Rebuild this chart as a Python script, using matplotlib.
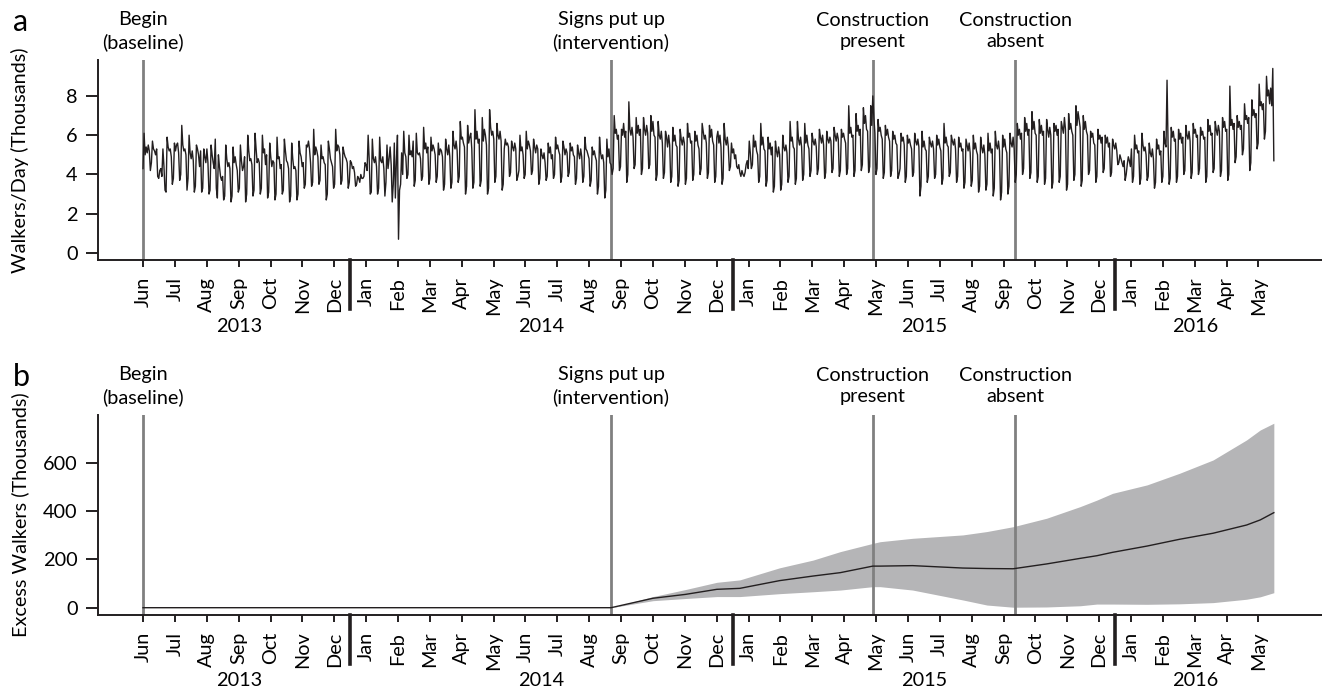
import numpy as np
import matplotlib
matplotlib.use("Agg")
import matplotlib.pyplot as plt
import matplotlib.transforms as mtransforms

plt.rcParams["font.family"] = ["Lato", "DejaVu Sans"]
plt.rcParams["font.size"] = 14.3

# gunluk yaya sayisi (bin), 1 Haziran 2013 (Cumartesi) -> 16 Mayis 2016
# her satir bir hafta: Cmt, Paz, Pzt, Sal, Car, Per, Cum
walkers_baseline = [
    [4.3, 6.1, 5.0, 5.4, 5.1, 5.5, 5.2], [4.2, 4.6, 5.7, 5.3, 5.2, 5.0, 5.3],
    [3.9, 3.8, 4.2, 4.3, 3.9, 5.3, 4.4], [3.2, 3.1, 5.9, 5.4, 5.2, 5.3, 4.9],
    [3.5, 3.8, 5.6, 5.2, 5.5, 5.6, 5.1], [3.7, 4.0, 6.5, 5.5, 5.2, 5.3, 5.0],
    [3.2, 3.8, 6.0, 5.1, 4.8, 5.2, 4.7], [3.1, 3.4, 5.5, 5.3, 5.0, 4.4, 5.2],
    [3.1, 3.3, 5.3, 4.9, 4.6, 5.3, 4.6], [3.0, 3.2, 5.5, 5.0, 4.6, 4.3, 5.8],
    [3.3, 2.8, 5.0, 4.4, 3.9, 3.7, 3.9], [2.7, 2.9, 5.5, 4.8, 4.4, 4.6, 4.3],
    [2.6, 2.9, 5.4, 4.6, 4.9, 4.5, 4.2], [3.1, 3.3, 5.5, 4.7, 4.2, 4.4, 4.9],
    [2.6, 3.0, 6.0, 5.2, 4.7, 4.8, 4.5], [2.9, 3.2, 6.1, 5.3, 4.6, 4.8, 4.6],
    [3.0, 3.3, 6.0, 5.1, 5.3, 4.5, 5.0], [2.8, 3.1, 5.6, 4.9, 4.4, 4.7, 4.6],
    [2.7, 3.0, 5.9, 4.8, 4.9, 4.3, 4.5], [3.0, 3.2, 5.8, 5.2, 4.7, 4.6, 4.3],
    [2.6, 2.9, 5.6, 4.8, 4.3, 4.4, 4.2], [2.7, 3.0, 5.7, 5.1, 4.9, 4.4, 4.6],
    [3.3, 3.5, 5.5, 5.4, 5.7, 5.3, 4.6], [3.4, 3.6, 6.3, 5.0, 5.4, 5.2, 4.9],
    [3.5, 3.7, 5.5, 4.8, 4.9, 4.6, 4.5], [2.7, 3.0, 5.7, 5.3, 4.8, 4.6, 4.4],
    [3.3, 3.5, 6.3, 5.2, 5.5, 5.4, 5.0], [3.5, 3.7, 5.4, 5.1, 4.9, 4.8, 4.6],
    [3.3, 3.6, 4.7, 4.6, 4.3, 4.4, 4.1], [3.4, 3.5, 3.9, 3.8, 3.6, 4.0, 3.8],
    [3.8, 3.9, 4.6, 4.5, 4.2, 6.0, 4.8], [3.0, 3.1, 5.8, 4.8, 4.6, 4.9, 4.4],
    [3.0, 3.3, 5.9, 4.7, 4.6, 4.9, 4.3], [2.9, 3.6, 5.5, 4.3, 4.8, 5.4, 4.5],
    [2.6, 3.5, 5.6, 2.8, 4.7, 6.0, 0.7], [3.2, 3.5, 5.1, 4.0, 6.2, 5.1, 4.9],
    [3.8, 4.0, 6.0, 5.0, 5.2, 4.9, 5.7], [3.4, 3.7, 6.1, 5.1, 5.0, 5.1, 4.8],
    [3.7, 3.9, 6.4, 5.3, 5.6, 5.1, 5.4], [3.5, 3.8, 5.9, 5.2, 5.5, 5.3, 5.0],
    [3.6, 3.9, 5.6, 5.0, 5.3, 5.2, 4.9], [3.2, 3.5, 5.8, 5.3, 5.0, 5.5, 4.9],
    [3.3, 3.6, 6.2, 5.5, 5.3, 5.7, 5.2], [3.6, 3.9, 6.7, 5.8, 5.9, 5.6, 5.4],
    [3.0, 3.4, 6.5, 5.6, 5.9, 6.1, 5.3], [3.3, 3.6, 7.3, 5.8, 6.2, 5.6, 5.8],
    [3.4, 3.7, 6.9, 5.7, 6.3, 6.0, 5.5], [3.0, 3.3, 7.3, 6.4, 6.0, 6.2, 5.8],
    [3.6, 3.9, 6.6, 6.0, 5.8, 6.2, 5.7], [3.2, 3.5, 5.3, 5.8, 5.5, 5.6, 5.4],
    [3.9, 4.1, 5.7, 5.4, 5.2, 5.6, 5.3], [3.7, 3.9, 4.2, 6.0, 5.2, 5.4, 5.0],
    [3.8, 4.0, 6.2, 5.3, 5.7, 5.5, 5.2], [4.0, 4.2, 5.8, 5.4, 5.1, 5.5, 5.3],
    [3.5, 3.8, 5.3, 5.0, 4.8, 5.1, 4.6], [3.7, 3.9, 5.6, 5.1, 5.4, 4.8, 5.0],
    [3.8, 4.0, 5.9, 5.3, 5.5, 5.2, 5.0], [3.6, 3.9, 5.7, 5.4, 5.0, 5.3, 5.1],
    [3.9, 4.1, 5.6, 5.2, 5.4, 5.0, 4.9], [3.5, 3.8, 5.5, 5.1, 4.8, 5.3, 4.9],
    [3.6, 3.9, 5.9, 5.3, 5.2, 5.0, 4.8], [3.4, 3.7, 5.4, 5.0, 5.2, 4.9, 4.7],
    [3.0, 3.4, 5.9, 5.1, 4.8, 5.0, 4.6], [2.8, 3.2, 5.8, 4.9, 5.3, 4.6, 4.5],
]
walkers_intervention = [
    [4.0, 4.3, 7.0, 6.1, 6.3, 5.8, 6.0], [4.2, 4.4, 6.3, 6.0, 6.6, 5.9, 6.2],
    [3.6, 4.0, 7.7, 6.3, 6.0, 6.4, 5.9], [4.3, 4.5, 6.9, 6.1, 6.5, 6.0, 6.3],
    [4.0, 4.3, 6.9, 6.3, 6.0, 6.5, 6.1], [4.3, 4.5, 7.0, 6.2, 6.7, 6.0, 5.9],
    [3.7, 4.0, 6.7, 6.0, 5.8, 6.2, 5.6], [3.8, 4.1, 6.2, 5.9, 5.4, 6.0, 5.5],
    [3.6, 3.9, 6.4, 5.7, 6.0, 5.5, 5.4], [3.4, 3.7, 6.3, 5.8, 5.5, 5.9, 5.6],
    [3.5, 3.8, 6.6, 5.9, 6.1, 5.6, 5.7], [3.7, 4.0, 6.2, 5.7, 6.0, 5.5, 5.3],
    [4.0, 4.3, 6.6, 6.2, 5.8, 6.0, 5.6], [3.8, 4.1, 6.5, 5.9, 6.3, 5.7, 5.5],
    [3.6, 3.9, 5.9, 6.2, 5.6, 6.0, 5.4], [3.5, 3.8, 6.6, 5.8, 5.5, 5.9, 5.4],
    [4.2, 4.4, 5.6, 5.1, 5.3, 4.8, 5.0], [4.4, 4.3, 4.5, 4.1, 3.9, 4.2, 4.0],
    [3.9, 4.1, 4.5, 4.7, 4.3, 5.7, 5.1], [4.3, 4.5, 6.0, 5.4, 5.7, 5.2, 5.0],
    [3.6, 3.9, 6.6, 5.5, 5.9, 5.3, 5.2], [3.4, 3.7, 5.9, 5.3, 5.6, 5.0, 5.4],
    [3.1, 3.4, 5.7, 5.2, 4.9, 5.4, 5.0], [3.2, 3.5, 6.0, 5.4, 5.2, 5.5, 5.1],
    [3.6, 3.9, 6.7, 5.7, 5.9, 5.4, 5.3], [3.5, 3.8, 6.7, 5.8, 5.5, 5.9, 5.4],
    [3.7, 4.0, 6.6, 5.6, 6.0, 5.5, 5.3], [3.9, 4.2, 6.1, 5.7, 5.5, 5.8, 5.4],
    [4.0, 4.3, 6.3, 5.9, 5.6, 6.0, 5.5], [3.8, 4.1, 6.2, 5.8, 5.6, 5.9, 5.7],
    [4.1, 4.3, 6.4, 6.0, 5.7, 6.1, 5.8], [3.9, 4.2, 6.3, 5.9, 6.1, 5.8, 5.6],
    [4.0, 4.3, 7.5, 6.1, 6.4, 5.9, 6.0], [3.9, 4.2, 7.1, 6.2, 6.5, 6.0, 6.3],
    [4.2, 4.5, 7.4, 6.6, 7.0, 6.3, 6.2], [4.1, 4.4, 7.5, 6.5, 8.0, 6.9, 6.1],
    [4.0, 4.3, 6.8, 6.2, 6.4, 6.0, 5.8], [3.8, 4.1, 6.5, 6.0, 6.3, 5.9, 5.7],
    [3.9, 4.2, 6.2, 5.8, 6.0, 5.6, 5.5], [3.8, 4.0, 4.3, 6.1, 5.7, 5.9, 5.5],
    [3.6, 3.9, 6.0, 5.6, 5.8, 5.5, 5.3], [3.9, 4.1, 6.1, 5.7, 5.5, 5.8, 5.4],
    [2.9, 3.4, 6.2, 5.4, 5.7, 5.3, 5.2], [3.6, 3.9, 5.9, 5.6, 5.4, 5.7, 5.3],
    [3.8, 4.0, 6.0, 5.5, 5.8, 5.4, 5.2], [3.5, 3.8, 6.6, 5.6, 5.9, 5.5, 5.4],
    [3.9, 4.1, 6.0, 5.7, 5.5, 5.8, 5.3], [3.6, 3.9, 5.9, 5.4, 5.6, 5.2, 5.3],
    [3.3, 3.6, 5.8, 5.5, 5.2, 5.6, 5.1], [3.4, 3.7, 6.0, 5.3, 5.6, 5.2, 5.0],
    [3.1, 3.4, 5.9, 5.4, 5.1, 5.5, 5.0], [3.2, 3.5, 6.1, 5.2, 5.6, 5.1, 5.3],
    [2.9, 3.3, 6.2, 5.5, 5.3, 5.7, 5.2], [2.7, 3.1, 6.0, 5.4, 5.8, 5.3, 5.1],
    [3.0, 3.4, 6.1, 5.6, 5.4, 5.9, 5.3],
]
walkers_after = [
    [3.6, 4.0, 6.6, 6.0, 6.3, 5.8, 6.1], [4.0, 4.3, 6.9, 6.2, 6.6, 6.0, 6.3],
    [3.8, 4.1, 7.2, 6.3, 6.7, 6.1, 6.0], [3.6, 3.9, 6.8, 6.1, 6.5, 6.0, 6.2],
    [3.5, 3.8, 6.8, 6.3, 5.9, 6.4, 6.0], [3.3, 3.6, 6.6, 6.2, 6.5, 6.0, 6.3],
    [3.6, 3.9, 6.7, 6.4, 6.1, 6.9, 6.3], [3.2, 3.5, 7.1, 6.3, 6.6, 6.2, 6.0],
    [3.7, 4.0, 7.5, 6.5, 7.2, 6.8, 6.4], [3.4, 3.7, 7.0, 6.3, 6.7, 6.2, 6.0],
    [4.0, 4.2, 6.2, 5.9, 6.1, 5.6, 5.5], [3.6, 3.9, 6.3, 5.8, 6.0, 5.6, 5.9],
    [4.1, 4.3, 6.0, 5.6, 5.9, 5.4, 5.6], [3.9, 4.1, 5.8, 5.5, 5.3, 5.6, 5.2],
    [4.5, 4.6, 5.0, 4.8, 4.6, 4.4, 4.7], [3.7, 4.0, 4.5, 4.9, 4.7, 4.4, 5.3],
    [3.6, 3.9, 6.0, 5.3, 5.5, 5.1, 5.2], [3.5, 3.8, 6.1, 5.5, 5.2, 5.4, 5.0],
    [3.7, 3.9, 5.6, 5.1, 4.9, 5.3, 4.8], [3.3, 3.6, 5.8, 5.3, 5.5, 5.0, 5.2],
    [3.6, 3.9, 6.2, 5.6, 5.4, 8.8, 5.5], [3.5, 3.8, 6.4, 5.9, 6.2, 5.7, 5.8],
    [3.6, 3.9, 6.3, 5.8, 6.1, 5.6, 5.9], [4.0, 4.2, 6.5, 6.0, 5.8, 6.2, 5.7],
    [3.8, 4.1, 6.6, 6.1, 6.3, 5.9, 6.0], [4.0, 4.3, 6.4, 6.0, 6.2, 5.8, 5.9],
    [3.6, 3.9, 6.8, 6.2, 6.5, 6.0, 6.1], [4.1, 4.3, 6.7, 6.3, 6.0, 6.5, 6.2],
    [3.9, 4.2, 6.9, 6.4, 6.7, 6.2, 6.3], [3.7, 4.0, 8.5, 6.5, 6.8, 6.3, 6.6],
    [4.6, 4.9, 7.0, 6.4, 6.7, 6.3, 6.5], [5.0, 5.3, 7.6, 6.8, 7.0, 6.6, 6.9],
    [4.2, 4.6, 7.8, 7.0, 7.3, 6.9, 7.1], [5.3, 5.6, 8.6, 7.5, 7.7, 7.3, 7.6],
    [5.8, 6.2, 9.0, 8.0, 8.3, 7.6, 8.4], [7.5, 9.4, 4.7],
]

# fazla yaya (bin): gun, ortalama, alt ve ust sinir
excess_days = [0, 447, 487, 518, 548, 570, 608, 640, 666, 697, 704, 735, 783,
               806, 831, 863, 895, 911, 926, 959, 990, 1022, 1054, 1067, 1080]
excess_mean = [0, 0, 39, 55, 76, 80, 112, 131, 145, 172, 172, 174, 164,
               162, 161, 181, 204, 215, 229, 255, 283, 308, 342, 363, 393]
excess_low = [0, 0, 29, 38, 46, 46, 58, 66, 73, 87, 87, 73, 32,
              11, 2, 3, 8, 15, 15, 14, 16, 21, 35, 45, 62]
excess_high = [0, 0, 46, 75, 105, 115, 165, 197, 232, 266, 273, 287, 301,
               315, 335, 370, 418, 445, 473, 508, 556, 611, 694, 735, 763]

month_labels = ["Jun", "Jul", "Aug", "Sep", "Oct", "Nov", "Dec",
                "Jan", "Feb", "Mar", "Apr", "May", "Jun", "Jul", "Aug", "Sep", "Oct", "Nov", "Dec",
                "Jan", "Feb", "Mar", "Apr", "May", "Jun", "Jul", "Aug", "Sep", "Oct", "Nov", "Dec",
                "Jan", "Feb", "Mar", "Apr", "May"]
year_labels = ["2013", "2014", "2015", "2016"]

event_days = [0, 447, 697, 833]
event_labels = ["Begin\n(baseline)", "Signs put up\n(intervention)",
                "Construction\npresent", "Construction\nabsent"]

walkers = np.concatenate([np.concatenate([np.array(w) for w in seg])
                          for seg in (walkers_baseline, walkers_intervention, walkers_after)])
days = np.arange(len(walkers))

MONTH = 365.25 / 12
month_pos = np.arange(len(month_labels)) * MONTH
jan_idx = [i for i, m in enumerate(month_labels) if m == "Jan"]
year_groups = np.split(np.arange(len(month_labels)), jan_idx)

fig = plt.figure(figsize=(13.22, 6.92), dpi=100)
ax_a = fig.add_axes([98 / 1322, 1 - 260 / 692, 1224 / 1322, 200 / 692])
ax_b = fig.add_axes([98 / 1322, 1 - 615 / 692, 1224 / 1322, 200 / 692])

ax_a.plot(days, walkers, color="#231f20", lw=1.0, zorder=3)
ax_a.set_ylim(-0.357, 9.83)
ax_a.set_yticks([0, 2, 4, 6, 8])
ax_a.set_ylabel("Walkers/Day (Thousands)")

ax_b.fill_between(excess_days, excess_low, excess_high, color="#b5b5b7", lw=0, zorder=1)
ax_b.plot(excess_days, excess_mean, color="#231f20", lw=1.0, zorder=3)
ax_b.set_ylim(-30.2, 797)
ax_b.set_yticks([0, 200, 400, 600])
ax_b.set_ylabel("Excess Walkers (Thousands)")

for ax, letter in ((ax_a, "a"), (ax_b, "b")):
    ax.set_xlim(-43, 1126)
    ax.yaxis.set_label_coords(-0.0565, 0.5)
    for s in ("top", "right"):
        ax.spines[s].set_visible(False)
    for s in ("left", "bottom"):
        ax.spines[s].set_linewidth(1.4)
        ax.spines[s].set_color("#231f20")
    ax.set_xticks(month_pos)
    ax.set_xticklabels(month_labels, rotation=90)
    ax.tick_params(axis="x", length=5, width=1.4, pad=7, color="#231f20")
    ax.tick_params(axis="y", length=8.6, width=1.4, pad=6, color="#231f20")

    tr = mtransforms.blended_transform_factory(ax.transData, ax.transAxes)
    # yil ayiricilari
    for j in jan_idx:
        xs = (j - 0.5) * MONTH
        ax.plot([xs, xs], [0, -0.245], transform=tr, color="#231f20", lw=2.6, clip_on=False)
    for grp, yl in zip(year_groups, year_labels):
        xc = (month_pos[grp[0]] + month_pos[grp[-1]]) / 2
        ax.text(xc, -0.33, yl, transform=tr, ha="center", va="center")

    for d, lab in zip(event_days, event_labels):
        ax.axvline(d, color="#808080", lw=2.0, zorder=2)
        ax.text(d, 1.145, lab, transform=tr, ha="center", va="center", linespacing=1.3)

    ax.text(-0.063, 1.19, letter, transform=ax.transAxes, fontsize=22, ha="center", va="center")

fig.savefig("out.png", dpi=100)
